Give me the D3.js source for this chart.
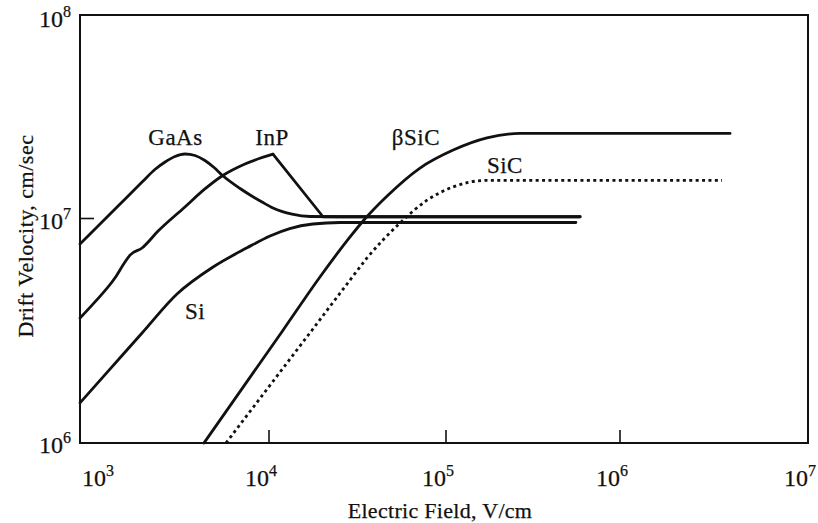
<!DOCTYPE html>
<html>
<head>
<meta charset="utf-8">
<script src="https://cdn.jsdelivr.net/npm/d3@7"></script>
<style>
  body { margin: 0; background: white; }
  text { font-family: "Liberation Serif", "Times New Roman", serif; fill: #111; stroke: #111; stroke-width: 0.25; }
</style>
</head>
<body>
<svg id="chart" width="818" height="523"></svg>
<script>

// --------------- DATA (field V/cm, velocity cm/s) ---------------
let gaas = [[1e3,7.69e6],[1.59e3,1.152e7],[2.13e3,1.51e7],[2.49e3,1.741e7],[2.82e3,1.895e7],[3.18e3,2.017e7],
            [3.59e3,2.075e7],[4.06e3,2.04e7],[4.58e3,1.928e7],[5.12e3,1.781e7],[5.64e3,1.636e7],
            [7.03e3,1.404e7],[9.19e3,1.205e7],[1.053e4,1.126e7],[1.35e4,1.05e7],[1.71e4,1.023e7],
            [2.52e4,1.02e7],[5.9e5,1.02e7]];
let inp  = [[1e3,3.6e6],[1.2e3,4.25e6],[1.53e3,5.43e6],[1.73e3,6.4e6],[1.84e3,6.87e6],[2.13e3,7.39e6],
            [2.59e3,8.79e6],[3.59e3,1.139e7],[4.58e3,1.397e7],[5.64e3,1.618e7],[7.46e3,1.853e7],
            [1.053e4,2.07e7],[2.02e4,1.02e7],[5.9e5,1.02e7]];
let si   = [[1e3,1.51e6],[1.41e3,2.09e6],[2.13e3,3.09e6],[3.26e3,4.61e6],[5.06e3,6.08e6],[7.65e3,7.4e6],
            [1.013e4,8.36e6],[1.31e4,9.02e6],[1.77e4,9.45e6],[2.52e4,9.6e6],[5.58e5,9.6e6]];
let bsic = [[4.53e3,1e6],[1.2e4,3.18e6],[1.94e4,5.49e6],[2.87e4,8.28e6],[3.4e4,9.75e6],[4.65e4,1.29e7],
            [7.13e4,1.77e7],[1.1e5,2.17e7],[1.72e5,2.49e7],[2.66e5,2.62e7],[3.96e5,2.62e7],[3.85e6,2.62e7]];
let sic  = [[5.92e3,1e6],[1.37e4,2.47e6],[1.77e4,3.22e6],[2.87e4,5.32e6],[3.58e4,6.67e6],[5.5e4,9.55e6],
            [7.81e4,1.23e7],[1.1e5,1.43e7],[1.72e5,1.54e7],[2.66e5,1.54e7],[3.49e6,1.54e7]];

let xTicks = [1e3, 1e4, 1e5, 1e6, 1e7];
let yTicks = [1e6, 1e7, 1e8];

// curve labels: [text, field, velocity]
let curveLabels = [["GaAs", 3.2e3, 2.3e7], ["InP", 1.04e4, 2.3e7], ["βSiC", 6.76e4, 2.3e7],
                   ["SiC", 2.18e5, 1.67e7], ["Si", 4.06e3, 3.57e6]];

// --------------- SCALES ---------------
// the scanned figure has uneven decades, so piecewise log scales
let x = d3.scaleLog().domain(xTicks).range([80, 269, 446, 620, 808]);
let y = d3.scaleLog().domain(yTicks).range([443, 218.5, 15]);

let svg = d3.select('#chart');

// --------------- FRAME + TICKS ---------------
svg.append("rect")
    .attr("x", x(1e3)).attr("y", y(1e8))
    .attr("width", x(1e7) - x(1e3)).attr("height", y(1e6) - y(1e8))
    .attr("fill", "none").attr("stroke", "#111").attr("stroke-width", 2);

svg.selectAll(".xtick").data(xTicks.slice(1, 4)).enter().append("line")
    .attr("x1", d => x(d)).attr("x2", d => x(d))
    .attr("y1", y(1e6)).attr("y2", y(1e6) - 13)
    .attr("stroke", "#111").attr("stroke-width", 1.6);

svg.selectAll(".ytick").data([1e7]).enter().append("line")
    .attr("x1", x(1e3)).attr("x2", x(1e3) + 14)
    .attr("y1", d => y(d)).attr("y2", d => y(d))
    .attr("stroke", "#111").attr("stroke-width", 1.6);

// --------------- TICK LABELS ---------------
function power(sel, d) {
    sel.append("tspan").text("10");
    sel.append("tspan").attr("font-size", 16).attr("dy", -10).text(Math.round(Math.log10(d)));
}

svg.selectAll(".xlab").data(xTicks).enter().append("text")
    .attr("x", d => Math.max(x(d) - 24, x(1e3) + 2))
    .attr("y", 486)
    .attr("font-size", 24)
    .each(function(d) { power(d3.select(this), d); });

svg.selectAll(".ylab").data(yTicks).enter().append("text")
    .attr("x", 71)
    .attr("y", d => Math.max(y(d) + 10, 27))
    .attr("text-anchor", "end")
    .attr("font-size", 24)
    .each(function(d) { power(d3.select(this), d); });

// --------------- AXIS TITLES ---------------
svg.append("text")
    .attr("x", 440).attr("y", 518)
    .attr("text-anchor", "middle").attr("font-size", 22).attr("letter-spacing", 0.3)
    .text("Electric Field, V/cm");

svg.append("text")
    .attr("transform", "translate(33,236) rotate(-90)")
    .attr("text-anchor", "middle").attr("font-size", 22).attr("letter-spacing", 0.5)
    .text("Drift Velocity, cm/sec");

// --------------- CURVES ---------------
let smooth = d3.line().x(d => x(d[0])).y(d => y(d[1])).curve(d3.curveMonotoneX);
let straight = d3.line().x(d => x(d[0])).y(d => y(d[1]));

// InP has a sharp peak: smooth rise, straight drop
let inpPeak = inp.findIndex(d => d[1] === d3.max(inp, p => p[1]));

let series = [
    {pts: si,                         gen: smooth,   dash: null},
    {pts: gaas,                       gen: smooth,   dash: null},
    {pts: inp.slice(0, inpPeak + 1),  gen: smooth,   dash: null},
    {pts: inp.slice(inpPeak),         gen: straight, dash: null},
    {pts: bsic,                       gen: smooth,   dash: null},
    {pts: sic,                        gen: smooth,   dash: "3,3.4"}
];

svg.selectAll(".curve").data(series).enter().append("path")
    .attr("d", d => d.gen(d.pts))
    .attr("fill", "none")
    .attr("stroke", "#111")
    .attr("stroke-width", 2.8)
    .attr("stroke-linejoin", "round")
    .attr("stroke-linecap", d => d.dash ? "butt" : "round")
    .attr("stroke-dasharray", d => d.dash);

// --------------- CURVE LABELS ---------------
svg.selectAll(".clab").data(curveLabels).enter().append("text")
    .attr("x", d => x(d[1])).attr("y", d => y(d[2]))
    .attr("text-anchor", "middle")
    .attr("font-size", 23).attr("letter-spacing", 0.5)
    .text(d => d[0]);

</script>
</body>
</html>
